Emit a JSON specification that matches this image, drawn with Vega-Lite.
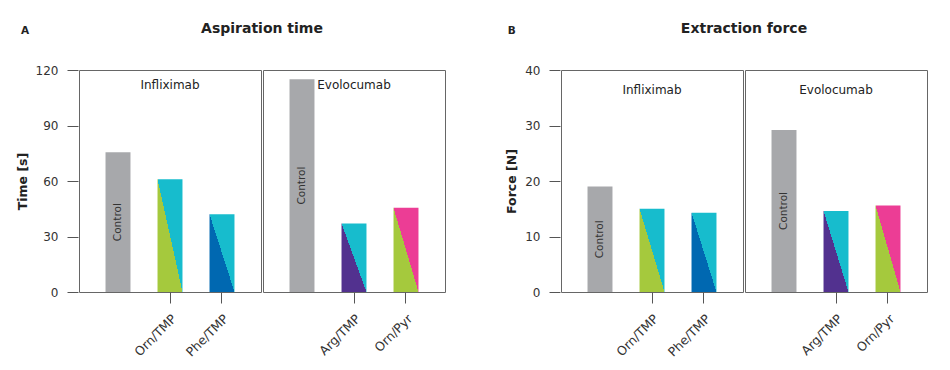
{
  "$schema": "https://vega.github.io/schema/vega-lite/v6.json",
  "padding": {"left": 16, "top": 22, "right": 5, "bottom": 5},
  "config": {
    "font": "DejaVu Sans",
    "view": {"stroke": "#666", "strokeWidth": 1},
    "axis": {"grid": false, "domain": false, "labelFontSize": 12, "labelColor": "#333", "tickColor": "#555", "tickSize": 11, "titleFontSize": 12.5, "titleFontWeight": "bold", "titleColor": "#222"},
    "axisY": {"labelPadding": 9, "titlePadding": 6},
    "axisX": {"labelAngle": -45, "labelPadding": 9, "labelFontSize": 12.5},
    "title": {"fontSize": 10.5, "fontWeight": "bold", "color": "#222"}
  },
  "datasets": {
    "bars": [
      {"measure": "Aspiration time", "antibody": "Infliximab", "drug": "Control", "value": 75.5},
      {"measure": "Aspiration time", "antibody": "Infliximab", "drug": "Orn/TMP", "value": 61},
      {"measure": "Aspiration time", "antibody": "Infliximab", "drug": "Phe/TMP", "value": 42},
      {"measure": "Aspiration time", "antibody": "Evolocumab", "drug": "Control", "value": 115},
      {"measure": "Aspiration time", "antibody": "Evolocumab", "drug": "Arg/TMP", "value": 37},
      {"measure": "Aspiration time", "antibody": "Evolocumab", "drug": "Orn/Pyr", "value": 45.5},
      {"measure": "Extraction force", "antibody": "Infliximab", "drug": "Control", "value": 19},
      {"measure": "Extraction force", "antibody": "Infliximab", "drug": "Orn/TMP", "value": 15},
      {"measure": "Extraction force", "antibody": "Infliximab", "drug": "Phe/TMP", "value": 14.3},
      {"measure": "Extraction force", "antibody": "Evolocumab", "drug": "Control", "value": 29.2},
      {"measure": "Extraction force", "antibody": "Evolocumab", "drug": "Arg/TMP", "value": 14.6},
      {"measure": "Extraction force", "antibody": "Evolocumab", "drug": "Orn/Pyr", "value": 15.6}
    ]
  },
  "spacing": 59,
  "hconcat": [
    {
      "data": {"name": "bars"},
      "transform": [{"filter": "datum.measure == 'Aspiration time'"}],
      "title": {"text": "A", "anchor": "start", "frame": "bounds", "offset": -14, "dx": 5},
      "facet": {"column": {"field": "antibody", "type": "nominal", "sort": ["Infliximab", "Evolocumab"], "title": "Aspiration time",
        "header": {"labels": false, "titleFontSize": 14, "titleFontWeight": "bold", "titleColor": "#222", "titlePadding": 12, "titleBaseline": "alphabetic"}}},
      "spacing": 0,
      "resolve": {"scale": {"x": "independent"}},
      "spec": {
        "width": 182,
        "height": 222,
        "layer": [
          {
            "mark": {"type": "bar"},
            "encoding": {
              "x": {"field": "drug", "type": "nominal", "sort": ["Control", "Orn/TMP", "Phe/TMP", "Arg/TMP", "Orn/Pyr"], "title": null,
                "scale": {"paddingInner": 0.52, "paddingOuter": 0.51},
                "axis": {"labelExpr": "datum.value == 'Control' ? '' : datum.value", "tickOpacity": {"condition": {"test": "datum.value == 'Control'", "value": 0}, "value": 1}}},
              "y": {"field": "value", "type": "quantitative", "title": "Time [s]", "scale": {"domain": [0, 120], "nice": false}, "axis": {"values": [0, 30, 60, 90, 120]}},
              "color": {
                "condition": [
                  {"test": "datum.drug == 'Orn/TMP'", "value": {"gradient": "linear", "x1": 0, "y1": 1, "x2": 1, "y2": 0, "stops": [{"offset": 0.5, "color": "#a5c93d"}, {"offset": 0.5, "color": "#17bccd"}]}},
                  {"test": "datum.drug == 'Phe/TMP'", "value": {"gradient": "linear", "x1": 0, "y1": 1, "x2": 1, "y2": 0, "stops": [{"offset": 0.5, "color": "#0068b1"}, {"offset": 0.5, "color": "#17bccd"}]}},
                  {"test": "datum.drug == 'Arg/TMP'", "value": {"gradient": "linear", "x1": 0, "y1": 1, "x2": 1, "y2": 0, "stops": [{"offset": 0.5, "color": "#52318f"}, {"offset": 0.5, "color": "#17bccd"}]}},
                  {"test": "datum.drug == 'Orn/Pyr'", "value": {"gradient": "linear", "x1": 0, "y1": 1, "x2": 1, "y2": 0, "stops": [{"offset": 0.5, "color": "#a5c93d"}, {"offset": 0.5, "color": "#ec3d95"}]}}
                ],
                "value": "#a7a8ab"
              }
            }
          },
          {
            "transform": [{"filter": "datum.drug == 'Control'"}, {"calculate": "datum.value / 2", "as": "mid"}],
            "mark": {"type": "text", "angle": 270, "fontSize": 10.5, "color": "#333"},
            "encoding": {
              "x": {"field": "drug", "type": "nominal", "sort": ["Control", "Orn/TMP", "Phe/TMP", "Arg/TMP", "Orn/Pyr"], "title": null},
              "y": {"field": "mid", "type": "quantitative", "title": "Time [s]"},
              "text": {"field": "drug"}
            }
          },
          {
            "transform": [{"aggregate": [{"op": "count", "as": "n"}], "groupby": ["antibody"]}],
            "mark": {"type": "text", "fontSize": 12, "color": "#222"},
            "encoding": {
              "y": {"datum": 112},
              "text": {"field": "antibody"}
            }
          }
        ]
      }
    },
    {
      "data": {"name": "bars"},
      "transform": [{"filter": "datum.measure == 'Extraction force'"}],
      "title": {"text": "B", "anchor": "start", "frame": "bounds", "offset": -14, "dx": 2},
      "facet": {"column": {"field": "antibody", "type": "nominal", "sort": ["Infliximab", "Evolocumab"], "title": "Extraction force",
        "header": {"labels": false, "titleFontSize": 14, "titleFontWeight": "bold", "titleColor": "#222", "titlePadding": 12, "titleBaseline": "alphabetic"}}},
      "spacing": 0,
      "resolve": {"scale": {"x": "independent"}},
      "spec": {
        "width": 182,
        "height": 222,
        "layer": [
          {
            "mark": {"type": "bar"},
            "encoding": {
              "x": {"field": "drug", "type": "nominal", "sort": ["Control", "Orn/TMP", "Phe/TMP", "Arg/TMP", "Orn/Pyr"], "title": null,
                "scale": {"paddingInner": 0.52, "paddingOuter": 0.51},
                "axis": {"labelExpr": "datum.value == 'Control' ? '' : datum.value", "tickOpacity": {"condition": {"test": "datum.value == 'Control'", "value": 0}, "value": 1}}},
              "y": {"field": "value", "type": "quantitative", "title": "Force [N]", "scale": {"domain": [0, 40], "nice": false}, "axis": {"values": [0, 10, 20, 30, 40]}},
              "color": {
                "condition": [
                  {"test": "datum.drug == 'Orn/TMP'", "value": {"gradient": "linear", "x1": 0, "y1": 1, "x2": 1, "y2": 0, "stops": [{"offset": 0.5, "color": "#a5c93d"}, {"offset": 0.5, "color": "#17bccd"}]}},
                  {"test": "datum.drug == 'Phe/TMP'", "value": {"gradient": "linear", "x1": 0, "y1": 1, "x2": 1, "y2": 0, "stops": [{"offset": 0.5, "color": "#0068b1"}, {"offset": 0.5, "color": "#17bccd"}]}},
                  {"test": "datum.drug == 'Arg/TMP'", "value": {"gradient": "linear", "x1": 0, "y1": 1, "x2": 1, "y2": 0, "stops": [{"offset": 0.5, "color": "#52318f"}, {"offset": 0.5, "color": "#17bccd"}]}},
                  {"test": "datum.drug == 'Orn/Pyr'", "value": {"gradient": "linear", "x1": 0, "y1": 1, "x2": 1, "y2": 0, "stops": [{"offset": 0.5, "color": "#a5c93d"}, {"offset": 0.5, "color": "#ec3d95"}]}}
                ],
                "value": "#a7a8ab"
              }
            }
          },
          {
            "transform": [{"filter": "datum.drug == 'Control'"}, {"calculate": "datum.value / 2", "as": "mid"}],
            "mark": {"type": "text", "angle": 270, "fontSize": 10.5, "color": "#333"},
            "encoding": {
              "x": {"field": "drug", "type": "nominal", "sort": ["Control", "Orn/TMP", "Phe/TMP", "Arg/TMP", "Orn/Pyr"], "title": null},
              "y": {"field": "mid", "type": "quantitative", "title": "Force [N]"},
              "text": {"field": "drug"}
            }
          },
          {
            "transform": [{"aggregate": [{"op": "count", "as": "n"}], "groupby": ["antibody"]}],
            "mark": {"type": "text", "fontSize": 12, "color": "#222"},
            "encoding": {
              "y": {"datum": 36.4},
              "text": {"field": "antibody"}
            }
          }
        ]
      }
    }
  ]
}
